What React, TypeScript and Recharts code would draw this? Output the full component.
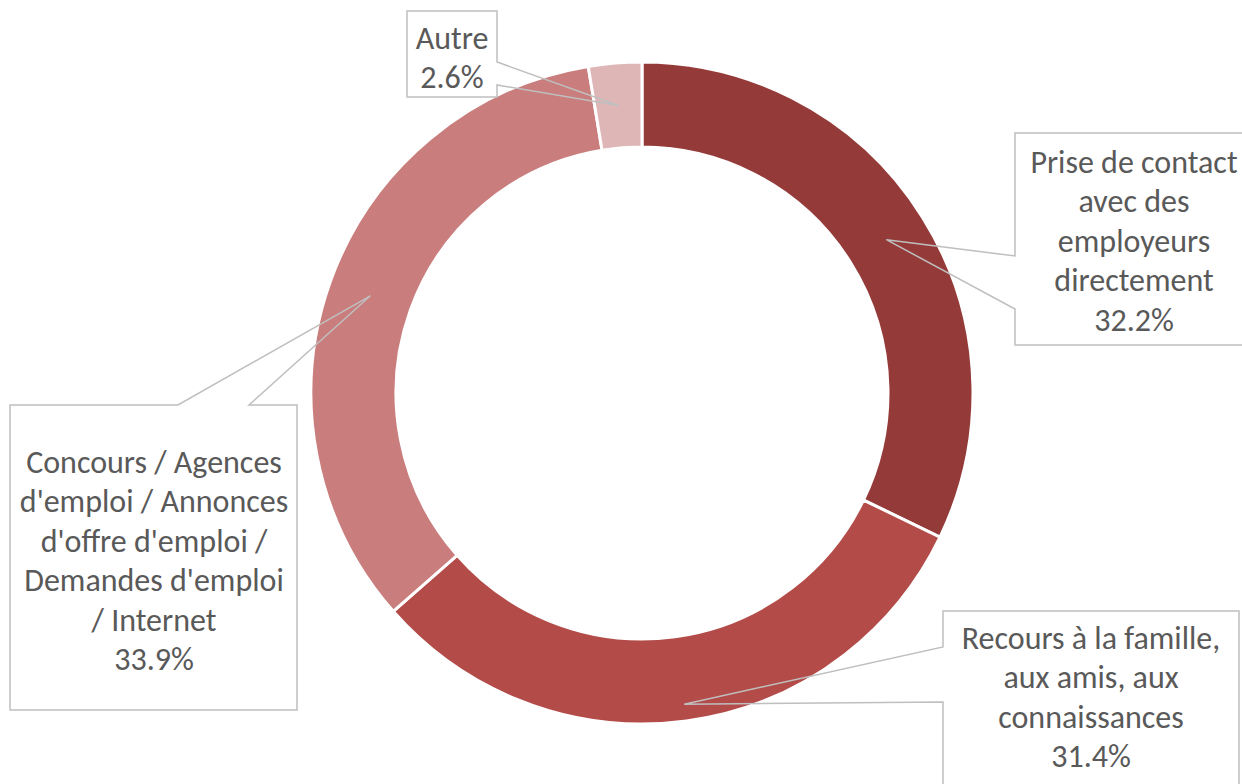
import React from "react";
import { PieChart, Pie, Cell } from "recharts";

const categories = [
  "Prise de contact avec des employeurs directement",
  "Recours à la famille, aux amis, aux connaissances",
  "Concours / Agences d'emploi / Annonces d'offre d'emploi / Demandes d'emploi / Internet",
  "Autre",
];

const shares = [32.2, 31.4, 33.9, 2.6];

const labelLines = [
  ["Prise de contact", "avec des", "employeurs", "directement"],
  ["Recours à la famille,", "aux amis, aux", "connaissances"],
  ["Concours / Agences", "d'emploi / Annonces", "d'offre d'emploi /", "Demandes d'emploi", "/ Internet"],
  ["Autre"],
];

const colors = ["#943B3A", "#B34B49", "#C97D7C", "#DFB6B6"];

const data = categories.map((name, i) => ({ name, value: shares[i] }));

// callout boxes, offsets relative to the pie centre
const callouts = [
  { box: [373, -260, 611, -48], side: "left", base: [-137, -84], text: [492, -231], tip: 0.5 },
  { box: [301, 218, 597, 407], side: "left", base: [254, 309], text: [449, 245], tip: 0.8 },
  { box: [-632, 12, -345, 317], side: "top", base: [-464, -393], text: [-488, 69], tip: 0.5 },
  { box: [-235, -382, -145, -296], side: "right", base: [-331, -308], text: [-190, -355], tip: 0.5 },
];

const RAD = Math.PI / 180;
const LINE_H = 39.5;

function renderLabel(props: any) {
  const { cx, cy, midAngle, innerRadius, outerRadius, percent, index } = props;
  const c = callouts[index];
  const r = innerRadius + (outerRadius - innerRadius) * c.tip;
  const tx = cx + r * Math.cos(-midAngle * RAD);
  const ty = cy + r * Math.sin(-midAngle * RAD);
  const [l, t, rr, b] = [cx + c.box[0], cy + c.box[1], cx + c.box[2], cy + c.box[3]];
  let d = "";
  if (c.side === "left") {
    const y1 = cy + c.base[0];
    const y2 = cy + c.base[1];
    d = `M${l},${y1} L${l},${t} L${rr},${t} L${rr},${b} L${l},${b} L${l},${y2} L${tx},${ty} Z`;
  } else if (c.side === "right") {
    const y1 = cy + c.base[0];
    const y2 = cy + c.base[1];
    d = `M${rr},${y1} L${rr},${t} L${l},${t} L${l},${b} L${rr},${b} L${rr},${y2} L${tx},${ty} Z`;
  } else {
    const x1 = cx + c.base[0];
    const x2 = cx + c.base[1];
    d = `M${x1},${t} L${l},${t} L${l},${b} L${rr},${b} L${rr},${t} L${x2},${t} L${tx},${ty} Z`;
  }
  const lines = [...labelLines[index], `${(percent * 100).toFixed(1)}%`];
  return (
    <g key={`callout-${index}`}>
      <path d={d} fill="none" stroke="#BFBFBF" strokeWidth={1.5} strokeLinejoin="miter" />
      {lines.map((line, i) => (
        <text
          key={i}
          x={cx + c.text[0]}
          y={cy + c.text[1] + i * LINE_H}
          textAnchor="middle"
          dominantBaseline="central"
          fill="#595959"
          fontSize={32}
          fontFamily="Carlito, Lato, 'Open Sans', sans-serif"
        >
          {line}
        </text>
      ))}
    </g>
  );
}

export default function App() {
  return (
    <div style={{ position: "absolute", left: 0, top: 0, width: 1242, height: 784, background: "#fff" }}>
      <PieChart width={1242} height={784} margin={{ top: 0, right: 0, bottom: 0, left: 0 }}>
        <Pie
          data={data}
          dataKey="value"
          nameKey="name"
          cx={642}
          cy={393}
          innerRadius={246}
          outerRadius={331}
          startAngle={90}
          endAngle={-270}
          stroke="#FFFFFF"
          strokeWidth={3}
          label={renderLabel}
          labelLine={false}
          isAnimationActive={false}
        >
          {data.map((d, i) => (
            <Cell key={d.name} fill={colors[i]} />
          ))}
        </Pie>
      </PieChart>
    </div>
  );
}
